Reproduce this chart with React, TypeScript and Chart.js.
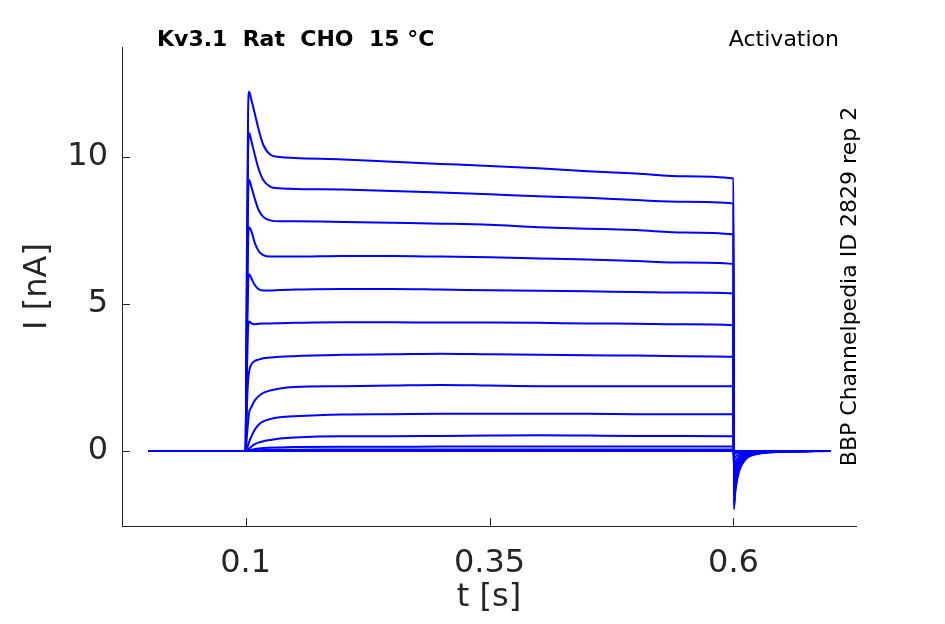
import React, { useEffect, useRef } from 'react'
import { Chart, registerables } from 'chart.js'

Chart.register(...registerables)

// sample times (s) shared by every sweep
const tSteps = [
	0, 0.1, 0.1012, 0.1025, 0.1035, 0.106, 0.109, 0.113, 0.118, 0.125, 0.135,
	0.15, 0.2, 0.25, 0.3, 0.35, 0.4, 0.45, 0.5, 0.55, 0.6, 0.6004, 0.602, 0.605,
	0.612, 0.625, 0.65, 0.7,
]

// current (nA) per sweep
const trace01 = [0, 0, 6.5, 11.6, 12.2, 11.9, 11.5, 10.95, 10.4, 10.07, 9.98, 9.95, 9.9, 9.82, 9.75, 9.68, 9.6, 9.5, 9.42, 9.33, 9.25, -1.98, -1.35, -0.78, -0.3, -0.1, -0.03, 0]
const trace02 = [0, 0, 5.8, 10.2, 10.8, 10.5, 10.1, 9.6, 9.2, 8.98, 8.92, 8.9, 8.88, 8.83, 8.78, 8.72, 8.65, 8.6, 8.52, 8.46, 8.4, -1.85, -1.25, -0.72, -0.28, -0.09, -0.03, 0]
const trace03 = [0, 0, 5.0, 8.7, 9.2, 8.95, 8.6, 8.2, 7.95, 7.83, 7.8, 7.8, 7.78, 7.75, 7.72, 7.68, 7.6, 7.55, 7.5, 7.42, 7.35, -1.7, -1.15, -0.66, -0.26, -0.08, -0.02, 0]
const trace04 = [0, 0, 4.2, 7.2, 7.6, 7.45, 7.1, 6.8, 6.65, 6.6, 6.6, 6.6, 6.62, 6.62, 6.6, 6.58, 6.54, 6.5, 6.45, 6.4, 6.35, -1.55, -1.05, -0.6, -0.24, -0.08, -0.02, 0]
const trace05 = [0, 0, 3.4, 5.7, 6.0, 5.85, 5.65, 5.5, 5.45, 5.45, 5.47, 5.48, 5.5, 5.5, 5.48, 5.46, 5.44, 5.42, 5.4, 5.38, 5.35, -1.38, -0.93, -0.54, -0.21, -0.07, -0.02, 0]
const trace06 = [0, 0, 2.5, 4.2, 4.4, 4.33, 4.3, 4.32, 4.33, 4.33, 4.34, 4.35, 4.37, 4.37, 4.36, 4.36, 4.35, 4.33, 4.32, 4.3, 4.27, -1.2, -0.81, -0.47, -0.18, -0.06, -0.02, 0]
const trace07 = [0, 0, 1.5, 2.4, 2.7, 2.95, 3.05, 3.1, 3.15, 3.17, 3.2, 3.22, 3.27, 3.28, 3.3, 3.28, 3.27, 3.25, 3.24, 3.22, 3.2, -1.0, -0.68, -0.39, -0.15, -0.05, -0.01, 0]
const trace08 = [0, 0, 0.5, 1.0, 1.3, 1.5, 1.7, 1.85, 1.97, 2.05, 2.12, 2.17, 2.2, 2.22, 2.24, 2.22, 2.2, 2.2, 2.2, 2.2, 2.2, -0.8, -0.54, -0.31, -0.12, -0.04, -0.01, 0]
const trace09 = [0, 0, 0.1, 0.2, 0.3, 0.5, 0.7, 0.88, 1.0, 1.08, 1.14, 1.18, 1.24, 1.25, 1.26, 1.26, 1.26, 1.26, 1.25, 1.25, 1.25, -0.55, -0.37, -0.21, -0.08, -0.03, -0.01, 0]
const trace10 = [0, 0, 0.02, 0.04, 0.08, 0.15, 0.22, 0.28, 0.33, 0.37, 0.42, 0.46, 0.5, 0.5, 0.51, 0.52, 0.53, 0.52, 0.51, 0.51, 0.5, -0.3, -0.2, -0.12, -0.05, -0.02, 0, 0]
const trace11 = [0, 0, 0, 0.01, 0.02, 0.04, 0.06, 0.08, 0.1, 0.11, 0.12, 0.13, 0.14, 0.14, 0.15, 0.15, 0.15, 0.15, 0.15, 0.15, 0.15, -0.12, -0.08, -0.05, -0.02, -0.01, 0, 0]
const trace12 = [0, 0, 0, 0, 0.01, 0.01, 0.02, 0.02, 0.03, 0.03, 0.04, 0.04, 0.05, 0.05, 0.05, 0.05, 0.05, 0.05, 0.05, 0.05, 0.05, -0.05, -0.03, -0.02, -0.01, 0, 0, 0]
const trace13 = [0, 0, 0, 0, 0, 0, 0.01, 0.01, 0.01, 0.01, 0.02, 0.02, 0.02, 0.02, 0.02, 0.02, 0.02, 0.02, 0.02, 0.02, 0.02, -0.02, -0.01, 0, 0, 0, 0, 0]
const trace14 = [0, 0, 0, 0, 0, 0, 0, 0, 0, 0, 0.01, 0.01, 0.01, 0.01, 0.01, 0.01, 0.01, 0.01, 0.01, 0.01, 0.01, -0.01, 0, 0, 0, 0, 0, 0]
const trace15 = [0, 0, 0, 0, 0, 0, 0, 0, 0, 0, 0, 0, 0, 0, 0, 0, 0, 0, 0, 0, 0, 0, 0, 0, 0, 0, 0, 0]

const traces = [
	trace01, trace02, trace03, trace04, trace05, trace06, trace07, trace08,
	trace09, trace10, trace11, trace12, trace13, trace14, trace15,
]

const xTicks = [0.1, 0.35, 0.6]
const xTickLabels = ['0.1', '0.35', '0.6']
const yTicks = [0, 5, 10]
const yTickLabels = ['0', '5', '10']

const FONT = "'DejaVu Sans', sans-serif"
const AXIS = '#262626'

const decorations = {
	id: 'decorations',
	afterDraw(chart: Chart) {
		const { ctx, chartArea, scales } = chart
		const xs = scales.x
		const ys = scales.y
		ctx.save()
		// inward tick marks
		ctx.strokeStyle = AXIS
		ctx.lineWidth = 1
		ctx.beginPath()
		xTicks.forEach((v) => {
			const px = Math.round(xs.getPixelForValue(v)) + 0.5
			ctx.moveTo(px, chartArea.bottom)
			ctx.lineTo(px, chartArea.bottom - 8)
		})
		yTicks.forEach((v) => {
			const py = Math.round(ys.getPixelForValue(v)) + 0.5
			ctx.moveTo(chartArea.left, py)
			ctx.lineTo(chartArea.left + 8, py)
		})
		ctx.stroke()

		// axis titles
		ctx.fillStyle = AXIS
		ctx.font = `32px ${FONT}`
		ctx.textAlign = 'center'
		ctx.textBaseline = 'middle'
		ctx.fillText('t [s]', (chartArea.left + chartArea.right) / 2, 598)
		ctx.save()
		ctx.translate(38, (chartArea.top + chartArea.bottom) / 2)
		ctx.rotate(-Math.PI / 2)
		ctx.fillText('I [nA]', 0, 0)
		ctx.restore()

		// header texts
		ctx.fillStyle = '#000'
		ctx.font = `bold 22px ${FONT}`
		ctx.textAlign = 'left'
		ctx.fillText('Kv3.1  Rat  CHO  15 °C', 157, 40)
		ctx.font = `22px ${FONT}`
		ctx.textAlign = 'right'
		ctx.fillText('Activation', 839, 40)

		// side note
		ctx.save()
		ctx.translate(850, (chartArea.top + chartArea.bottom) / 2)
		ctx.rotate(-Math.PI / 2)
		ctx.textAlign = 'center'
		ctx.fillText('BBP Channelpedia ID 2829 rep 2', 0, 0)
		ctx.restore()
		ctx.restore()
	},
}

const App: React.FC = () => {
	const chartRef = useRef<HTMLCanvasElement>(null)

	useEffect(() => {
		if (!chartRef.current) return
		const context = chartRef.current.getContext('2d')
		if (!context) return

		const datasets = traces.map((trace, i) => ({
			label: `sweep ${i + 1}`,
			data: trace.map((y, k) => ({ x: tSteps[k], y })),
			borderColor: '#0000ff',
			borderWidth: 2,
			pointRadius: 0,
			fill: false,
			cubicInterpolationMode: 'monotone' as const,
		}))

		const chart = new Chart(context, {
			type: 'line',
			data: { datasets },
			options: {
				animation: false,
				responsive: false,
				layout: { padding: { top: 47, right: 89, left: 0, bottom: 0 } },
				plugins: {
					legend: { display: false },
					tooltip: { enabled: false },
					title: { display: false },
				},
				scales: {
					x: {
						type: 'linear',
						min: -0.0268,
						max: 0.7256,
						afterBuildTicks: (scale) => {
							scale.ticks = xTicks.map((value) => ({ value }))
						},
						afterFit: (scale) => {
							scale.height = 98
						},
						grid: { display: false, drawTicks: false },
						border: { display: true, color: AXIS, width: 1 },
						ticks: {
							color: AXIS,
							padding: 18,
							maxRotation: 0,
							font: { family: FONT, size: 32 },
							callback: (_v, i) => xTickLabels[i],
						},
					},
					y: {
						type: 'linear',
						min: -2.55,
						max: 13.72,
						afterBuildTicks: (scale) => {
							scale.ticks = yTicks.map((value) => ({ value }))
						},
						afterFit: (scale) => {
							scale.width = 122
						},
						grid: { display: false, drawTicks: false },
						border: { display: true, color: AXIS, width: 1 },
						ticks: {
							color: AXIS,
							padding: 14,
							font: { family: FONT, size: 32 },
							callback: (_v, i) => yTickLabels[i],
						},
					},
				},
			},
			plugins: [decorations],
		})

		return () => {
			chart.destroy()
		}
	}, [])

	return (
		<div style={{ position: 'absolute', left: 0, top: 0, width: 945, height: 624, background: '#fff' }}>
			<canvas ref={chartRef} width={945} height={624} />
		</div>
	)
}

export default App
